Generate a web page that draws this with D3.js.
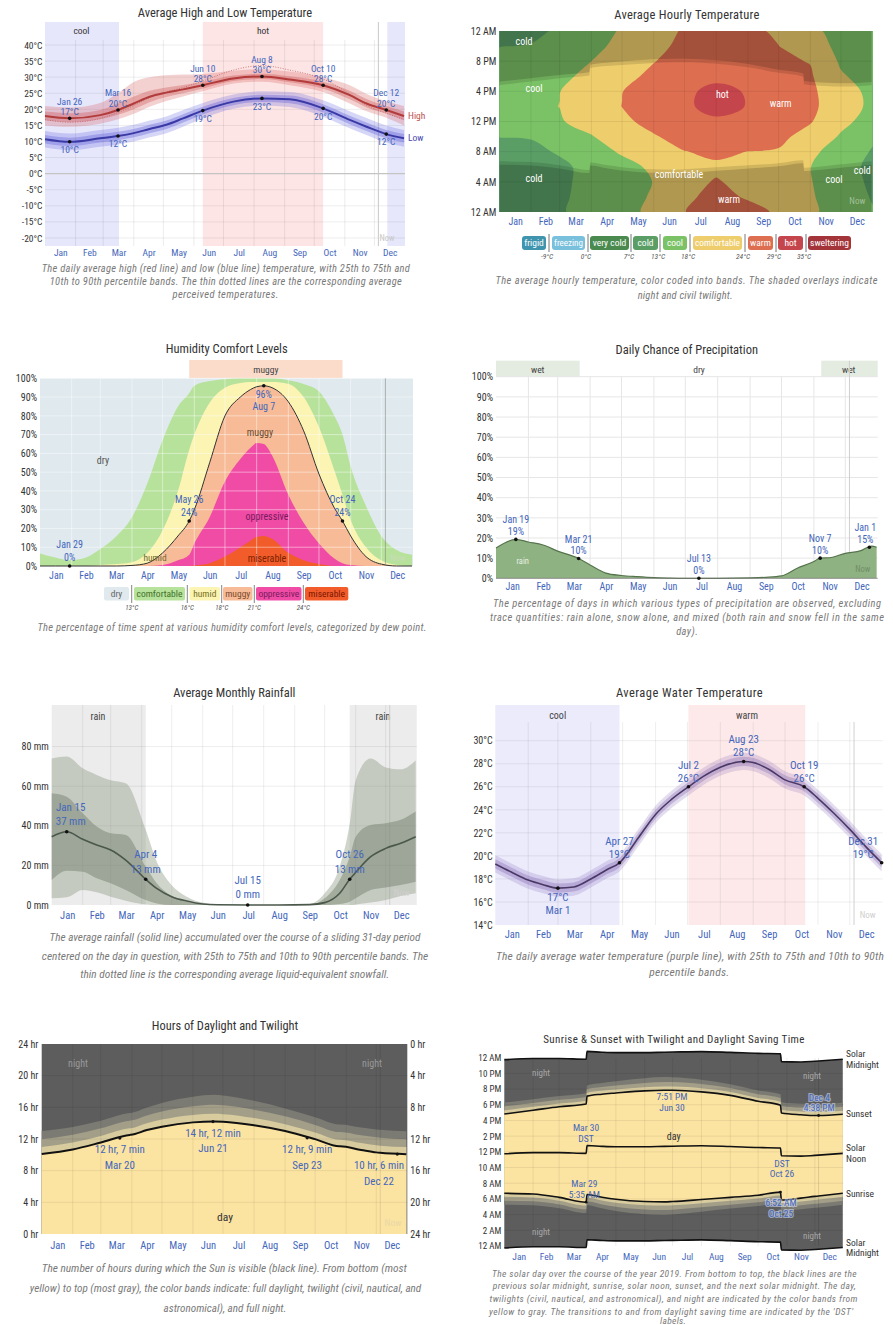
<!DOCTYPE html>
<html><head><meta charset="utf-8">
<script src="https://cdn.jsdelivr.net/npm/d3@7"></script>
<style>
body{margin:0;background:#fff;}
svg text{font-family:"Liberation Sans Narrow","Roboto Condensed","Liberation Sans",Arial,sans-serif;}
svg text.cap{font-style:italic;fill:#7a7a7a;}
</style></head><body>
<svg id="chart" width="893" height="1325"></svg>
<script>
// ================= DATA =================
const monthNames = ["Jan","Feb","Mar","Apr","May","Jun","Jul","Aug","Sep","Oct","Nov","Dec"];
const monthMid = [15.5,45,74.5,105,135.5,166,196.5,227.5,258,288.5,319,349.5];
const monthStart = [0,31,59,90,120,151,181,212,243,273,304,334,365];
const nowDay = 338;

// 1. Average high and low temperature
const tempDays   = [0,25,56,74,90,106,123,140,160,191,220,248,282,309,326,346,364];
const tempHigh   = [17.9,17.2,18.2,19.8,21.8,23.9,25.2,26.2,27.5,29.6,30.2,29.3,27.5,24.4,21.8,19.8,17.9];
const tempHighP90= [21.0,20.6,22.0,25.0,28.5,30.0,30.6,30.8,31.0,32.0,32.5,31.8,30.0,27.5,24.8,22.5,21.0];
const tempHighP75= [19.3,18.8,19.8,21.8,24.0,25.8,26.8,27.6,28.6,30.5,31.1,30.3,28.6,25.8,23.2,21.0,19.3];
const tempHighP25= [16.6,16.0,16.9,18.3,20.0,22.2,23.8,25.0,26.5,28.8,29.4,28.4,26.4,23.1,20.6,18.7,16.6];
const tempHighP10= [15.0,14.6,15.5,16.9,18.6,20.8,22.6,24.0,25.6,28.0,28.6,27.5,25.4,21.8,19.4,17.4,15.0];
const tempHighFeel=[16.8,16.0,17.2,19.0,21.2,23.6,25.4,26.8,28.8,32.2,33.6,32.2,29.4,24.8,21.2,18.8,16.8];
const tempLow    = [10.7,9.9,11.0,11.7,12.6,13.9,15.2,17.2,19.6,22.4,23.4,23.1,20.3,16.7,14.6,12.3,11.0];
const tempLowP90 = [13.3,12.5,13.6,14.3,15.2,16.5,17.8,19.8,22.0,24.6,25.6,25.4,22.8,19.4,17.3,15.0,13.6];
const tempLowP75 = [12.0,11.2,12.3,13.0,13.9,15.2,16.5,18.5,20.8,23.5,24.5,24.3,21.6,18.0,15.9,13.6,12.3];
const tempLowP25 = [9.4,8.6,9.7,10.4,11.3,12.6,13.9,15.9,18.4,21.3,22.3,21.9,19.0,15.4,13.3,11.0,9.7];
const tempLowP10 = [8.1,7.3,8.4,9.1,10.0,11.3,12.6,14.6,17.2,20.2,21.2,20.7,17.7,14.1,12.0,9.7,8.4];
const tempTicks  = [40,35,30,25,20,15,10,5,0,-5,-10,-15,-20];
const coolSeason = [[0,75],[347,365]];
const hotSeason  = [[160,282]];
const highNotes  = [["Jan 26",25,17.2,"17°C"],["Mar 16",74,19.8,"20°C"],["Jun 10",160,27.5,"28°C"],["Aug 8",220,30.2,"30°C"],["Oct 10",282,27.5,"28°C"],["Dec 12",346,19.8,"20°C"]];
const lowNotes   = [[25,9.9,"10°C"],[74,11.7,"12°C"],[160,19.6,"19°C"],[220,23.4,"23°C"],[282,20.3,"20°C"],[346,12.3,"12°C"]];

// 2. Average hourly temperature: one row per month boundary (Jan 1 ... Dec 31), values at hours 0,2,...,24
const hourlyTemp = [
  [12.0,11.6,11.2,10.8,11.5,13.1,15.8,17.3,16.8,15.2,13.9,12.9,12.4],
  [11.8,11.4,11.0,10.8,11.8,13.3,15.6,17.0,16.7,15.4,14.1,13.1,12.5],
  [12.3,12.0,11.8,11.9,13.5,15.5,17.6,18.05,17.9,16.6,15.3,14.2,13.3],
  [15.5,15.1,14.8,14.6,15.8,17.7,20.0,21.4,21.2,19.6,18.0,16.5,15.3],
  [17.0,16.6,16.2,16.4,18.6,21.0,23.0,24.05,23.9,22.3,20.5,19.5,18.6],
  [18.7,18.4,18.1,18.9,21.5,23.6,25.5,26.6,26.5,25.3,23.8,22.5,21.5],
  [23.95,23.6,23.1,22.8,23.9,25.8,27.8,28.6,28.5,27.5,26.2,25.3,24.6],
  [25.0,24.6,24.2,23.5,24.6,26.8,28.6,29.8,29.7,28.4,27.0,26.0,25.4],
  [24.7,23.8,23.2,22.9,23.95,26.0,27.8,28.9,28.8,27.6,26.3,25.5,25.0],
  [23.7,23.2,22.8,22.6,23.6,25.3,26.8,27.6,27.4,26.1,24.8,24.05,23.3],
  [19.2,18.7,18.3,18.1,19.3,22.0,24.4,25.4,25.2,24.6,23.8,21.5,19.8],
  [15.0,14.6,14.3,14.2,15.3,17.4,19.4,20.3,20.0,18.6,17.2,16.1,15.3],
  [13.2,12.8,12.5,12.3,12.7,13.6,15.8,17.0,16.8,15.6,14.6,13.9,13.4]
];
const tempBandNames  = ["frigid","freezing","very cold","cold","cool","comfortable","warm","hot","sweltering"];
const tempBandLimits = ["-9°C","0°C","7°C","13°C","18°C","24°C","29°C","35°C"];
const tempBandThresholds = [-100,-9,0,7,13,18,24,29,35];
const hourTicks = [24,20,16,12,8,4,0];

// Solar data (local clock time, hours), shared by hourly temperature, daylight and sunrise charts
const solarDays = [0,31,59,88,89,105,120,151,172,181,212,243,273,297,298,319,334,338,364];
const sunrise   = [6.72,6.62,6.2,5.58,6.57,6.22,5.95,5.67,5.63,5.67,5.92,6.2,6.47,6.87,5.87,6.1,6.32,6.37,6.72];
const sunset    = [16.82,17.3,17.75,18.1,19.1,19.35,19.5,19.77,19.85,19.85,19.65,19.2,18.45,17.95,16.95,16.72,16.63,16.63,16.8];
const solarNoon = [11.75,11.9,11.9,11.8,12.8,12.7,12.65,12.65,12.7,12.72,12.78,12.68,12.55,12.5,11.5,11.45,11.55,11.58,11.8];
const twCivil   = [0.45,0.44,0.42,0.42,0.42,0.43,0.45,0.47,0.48,0.48,0.46,0.43,0.42,0.42,0.42,0.43,0.45,0.45,0.45];
const twNautical= [0.95,0.93,0.9,0.9,0.9,0.92,0.96,1.02,1.05,1.04,0.99,0.93,0.9,0.9,0.9,0.92,0.95,0.95,0.95];
const twAstro   = [1.45,1.42,1.38,1.38,1.38,1.42,1.5,1.62,1.68,1.66,1.55,1.43,1.38,1.38,1.38,1.41,1.45,1.45,1.45];

// 3. Humidity comfort levels (cumulative % from bottom)
const humDays    = [0,15,29,45,59,75,90,105,120,135,146,151,166,181,196,206,212,219,227,243,258,273,288,296,304,319,334,349,364];
const humComfTop = [6.7,4.5,3,4.5,9,16,26,44,67,85,92,96,98.5,99.5,100,100,100,100,100,99,97,93,80,70,53,32,16,8.5,6];
const humHumidTop= [0,0,0,0,0.5,1,2,7,19,40,62,70,87,95,97.5,98,98,98,98,97,90,74,51,38,24.5,10,3,0.5,0];
const humMuggyTop= [0,0,0,0,0,0,0.3,1.5,7,16,24,30,55,80,90,94,95.5,96,95,87.5,72,49,31,24,16,5,1,0,0];
const humOppTop  = [0,0,0,0,0,0,0,0,0.5,3,6,12,26,45,57,63,65.5,65,59,38,23,12,4,1.5,0.5,0,0,0,0];
const humMisTop  = [0,0,0,0,0,0,0,0,0,0,0,0.3,1.5,5,10,13.5,15.5,16,14.5,7,3,1,0,0,0,0,0,0,0];
const humNames   = ["dry","comfortable","humid","muggy","oppressive","miserable"];
const humLimits  = ["13°C","16°C","18°C","21°C","24°C"];
const pctTicks   = [0,10,20,30,40,50,60,70,80,90,100];

// 4. Daily chance of precipitation
const precipDays = [0,19,31,45,59,79,90,105,120,135,151,166,181,194,212,243,258,273,288,304,310,319,334,349,359,364];
const precipRain = [15,19.3,18,16.5,13.5,9.8,6.6,2.6,1.4,0.8,0.3,0.1,0,0,0,0.2,0.5,1.2,5,8.3,10,10.2,12.4,13.7,16,15.4];
const wetSeason  = [[0,80],[311,365]];

// 5. Average monthly rainfall (mm)
const rainDays = [0,15,31,45,59,74,94,105,120,135,151,166,196,227,258,273,288,298,304,319,334,349,364];
const rainP90  = [74,75,69,65.7,63,61.5,38,22,10,4.2,1.2,0.2,0,0,0.5,5.9,19.4,41,63,74,69.5,68.5,73];
const rainP75  = [56.4,54.7,46.3,39.6,36.2,35.4,19.4,11,4.5,1.7,0.3,0,0,0,0,3.4,12.6,24.4,34.5,40.4,41.3,43,47.2];
const rainMean = [34.5,37,33.2,30.3,27.8,22.7,13,8.4,4.2,2,0.5,0.1,0,0,0.2,1.2,5.9,13,16.5,24.4,28.6,31.2,34.5];
const rainP25  = [12.6,17.3,16.8,13.5,11,7.6,2.5,0.8,0,0,0,0,0,0,0,0,0.5,1.7,3.4,7.6,8.9,10.1,11.8];
const rainP10  = [3.4,3.9,7.6,6.4,4.2,2.2,0.3,0,0,0,0,0,0,0,0,0,0,0,0.3,1.2,2.5,4.5,5.9];
const rainSeason = [[0,94],[298,365]];
const rainTicks = [0,20,40,60,80];

// 6. Average water temperature
const waterDays = [0,15,31,45,59,74,90,105,117,135,151,166,182,196,212,234,243,258,273,291,304,319,334,349,364];
const waterTemp = [19.3,18.6,17.9,17.5,17.2,17.3,18.0,18.8,19.4,21.6,23.6,24.9,26.0,26.9,27.7,28.2,28.1,27.5,26.6,26.0,25.0,23.7,22.3,20.8,19.4];
const waterP90  = [20.05,19.35,18.65,18.25,17.95,18.05,18.75,19.55,20.15,22.35,24.35,25.65,26.75,27.65,28.45,28.95,28.85,28.25,27.35,26.75,25.75,24.45,23.05,21.55,20.15];
const waterP75  = [19.7,19.0,18.3,17.9,17.6,17.7,18.4,19.2,19.8,22.0,24.0,25.3,26.4,27.3,28.1,28.6,28.5,27.9,27.0,26.4,25.4,24.1,22.7,21.2,19.8];
const waterP25  = [18.9,18.2,17.5,17.1,16.8,16.9,17.6,18.4,19.0,21.2,23.2,24.5,25.6,26.5,27.3,27.8,27.7,27.1,26.2,25.6,24.6,23.3,21.9,20.4,19.0];
const waterP10  = [18.55,17.85,17.15,16.75,16.45,16.55,17.25,18.05,18.65,20.85,22.85,24.15,25.25,26.15,26.95,27.45,27.35,26.75,25.85,25.25,24.25,22.95,21.55,20.05,18.65];
const waterCool = [[0,117]];
const waterWarm = [[182,292]];
const waterTicks = [14,16,18,20,22,24,26,28,30];

// 7. daylight ticks / notes
const dayHourTicks = [0,4,8,12,16,20,24];
const daylightNotes = [["12 hr, 7 min","Mar 20",78,12.12],["14 hr, 12 min","Jun 21",171,14.2],["12 hr, 9 min","Sep 23",265,12.15],["10 hr, 6 min","Dec 22",355,10.1]];
// 8. sunrise chart ticks
const clockTicks = [24,22,20,18,16,14,12,10,8,6,4,2,0];

// ================= HELPERS =================
function hasFont(f){
  const c=document.createElement("canvas").getContext("2d"); const s="mmmmmmmmmmlliWWii The quick brown fox";
  c.font="20px monospace"; const a=c.measureText(s).width;
  c.font=`20px '${f}', monospace`; return Math.abs(c.measureText(s).width-a)>0.5;
}
const narrowFont=["Liberation Sans Narrow","Roboto Condensed","DejaVu Sans Condensed","Open Sans Condensed"].find(hasFont);
const capFont = narrowFont ? `'${narrowFont}', 'Open Sans', sans-serif` : "'Open Sans', 'Liberation Sans', sans-serif";

const svg = d3.select("#chart");
svg.append("rect").attr("width",893).attr("height",1325).attr("fill","#fff");
const defs = svg.append("defs");
const blue = "#4466bb";

// fit a text to a target width: shrink font if the natural width is larger, widen spacing a little if smaller
function fit(sel,target,size){
  sel.style("font-size",size+"px");
  let n=sel.node().getComputedTextLength();
  if(n>target){ sel.style("font-size",(size*target/n).toFixed(2)+"px"); n=sel.node().getComputedTextLength(); }
  if(n<target*0.96) sel.attr("textLength",target).attr("lengthAdjust","spacing");
  return sel;
}
function title(t,cx,cy,w,size){
  const e=svg.append("text").attr("x",cx).attr("y",cy).attr("dy","0.35em").attr("text-anchor","middle").attr("fill","#333").text(t);
  fit(e,w,size);
}
function caption(lines,size){
  lines.forEach(([t,cx,cy,w])=>{
    const e=svg.append("text").attr("class","cap").attr("x",cx).attr("y",cy).attr("dy","0.35em")
      .attr("text-anchor","middle").style("font-family",capFont).text(t);
    fit(e,w,size);
  });
}
function txt(g,t,x,y,size,color,anchor="middle",extra){
  const e=g.append("text").attr("x",x).attr("y",y).attr("dy","0.35em").attr("text-anchor",anchor)
    .style("font-size",size+"px").attr("fill",color).text(t);
  if(extra) extra(e);
  return e;
}
function monthAxis(g,x,cy,size=10){
  const a=g.append("g").attr("transform",`translate(0,${cy-size*0.36})`)
    .call(d3.axisBottom(x).tickValues(monthMid).tickFormat((d,i)=>monthNames[i]).tickSize(0).tickPadding(0));
  a.select(".domain").remove();
  a.selectAll("text").attr("fill",blue).style("font-size",size+"px");
}
function leftAxis(g,y,xpos,ticks,fmt,size=10,pad=3,color="#333"){
  const a=g.append("g").attr("transform",`translate(${xpos},0)`)
    .call(d3.axisLeft(y).tickValues(ticks).tickFormat(fmt).tickSize(0).tickPadding(pad));
  a.select(".domain").remove();
  a.selectAll("text").attr("fill",color).style("font-size",size+"px");
}
function rightAxis(g,y,xpos,ticks,fmt,size=10,pad=3){
  const a=g.append("g").attr("transform",`translate(${xpos},0)`)
    .call(d3.axisRight(y).tickValues(ticks).tickFormat(fmt).tickSize(0).tickPadding(pad));
  a.select(".domain").remove();
  a.selectAll("text").attr("fill","#333").style("font-size",size+"px");
}
function vGrid(g,x,y0,y1,stroke){
  g.selectAll(null).data(monthStart.slice(1,12)).join("line")
    .attr("x1",d=>x(d)).attr("x2",d=>x(d)).attr("y1",y0).attr("y2",y1).attr("stroke",stroke).attr("stroke-width",1);
}
function hGrid(g,y,vals,x0,x1,stroke){
  g.selectAll(null).data(vals).join("line")
    .attr("x1",x0).attr("x2",x1).attr("y1",d=>y(d)).attr("y2",d=>y(d)).attr("stroke",stroke).attr("stroke-width",1);
}
const val=(a,i)=>typeof a==="function"?a(i):(typeof a==="number"?a:a[i]);
function area(x,y,days,lo,hi){
  return d3.area().x((d,i)=>x(days[i])).y0((d,i)=>y(val(lo,i))).y1((d,i)=>y(val(hi,i))).curve(d3.curveMonotoneX)(days);
}
function line(x,y,days,v){
  return d3.line().x((d,i)=>x(days[i])).y((d,i)=>y(val(v,i))).curve(d3.curveMonotoneX)(days);
}
function dot(g,x,y,r=1.8){ g.append("circle").attr("cx",x).attr("cy",y).attr("r",r).attr("fill","#111"); }
function nowLine(g,x,y0,y1,c="#c8c8c8"){ g.append("line").attr("x1",x).attr("x2",x).attr("y1",y0).attr("y2",y1).attr("stroke",c).attr("stroke-width",1); }
function clip(id,x,y,w,h){ defs.append("clipPath").attr("id",id).append("rect").attr("x",x).attr("y",y).attr("width",w).attr("height",h); return `url(#${id})`; }
function boxLabel(g,t,b,cy,size,color){
  const e=txt(g,t,(b[0]+b[1])/2,cy,size,color);
  const n=e.node().getComputedTextLength(), w=b[1]-b[0]-4;
  if(n>w) e.style("font-size",(size*w/n).toFixed(2)+"px");
  return e;
}

// ================= 1. HIGH / LOW =================
{
  const g=svg.append("g");
  const x=d3.scaleLinear([0,365],[45,405]);
  const y=d3.scaleLinear([-20,40],[238,45]);
  const top=22, bot=246;
  coolSeason.forEach(s=>g.append("rect").attr("x",x(s[0])).attr("width",x(s[1])-x(s[0])).attr("y",top).attr("height",bot-top).attr("fill","#e7e7fb"));
  hotSeason.forEach(s=>g.append("rect").attr("x",x(s[0])).attr("width",x(s[1])-x(s[0])).attr("y",top).attr("height",bot-top).attr("fill","#fde5e5"));
  txt(g,"cool",x(37),31,9.5,"#333");
  txt(g,"hot",x(221),31,9.5,"#333");
  hGrid(g,y,tempTicks.filter(d=>d!==0),45,405,"rgba(0,0,0,0.07)");
  vGrid(g,x,40,bot,"rgba(0,0,0,0.08)");
  g.append("line").attr("x1",45).attr("x2",405).attr("y1",y(0)).attr("y2",y(0)).attr("stroke","#c4c4c4").attr("stroke-width",1.2);
  nowLine(g,x(nowDay),top,bot);
  g.append("path").attr("d",area(x,y,tempDays,tempHighP10,tempHighP90)).attr("fill","rgba(215,90,90,0.28)");
  g.append("path").attr("d",area(x,y,tempDays,tempHighP25,tempHighP75)).attr("fill","rgba(200,70,70,0.32)");
  g.append("path").attr("d",area(x,y,tempDays,tempLowP10,tempLowP90)).attr("fill","rgba(95,95,225,0.26)");
  g.append("path").attr("d",area(x,y,tempDays,tempLowP25,tempLowP75)).attr("fill","rgba(80,80,215,0.32)");
  g.append("path").attr("d",line(x,y,tempDays,tempHighFeel)).attr("fill","none").attr("stroke","#c06060").attr("stroke-width",0.8).attr("stroke-dasharray","1,1.5");
  g.append("path").attr("d",line(x,y,tempDays,tempHigh)).attr("fill","none").attr("stroke","#b23b3b").attr("stroke-width",2);
  g.append("path").attr("d",line(x,y,tempDays,tempLow)).attr("fill","none").attr("stroke","#3a3aa6").attr("stroke-width",2);
  highNotes.forEach(([lab,d,v,t])=>{ dot(g,x(d),y(v)); txt(g,lab,x(d),y(v)-17,9.5,blue); txt(g,t,x(d),y(v)-6.5,9.5,blue); });
  lowNotes.forEach(([d,v,t])=>{ dot(g,x(d),y(v)); txt(g,t,x(d),y(v)+8,9.5,blue); });
  txt(g,"High",408,116,9.5,"#c05050","start");
  txt(g,"Low",408,138,9.5,"#4848b0","start");
  txt(g,"Now",387,238,8.5,"#c8c8c8");
  leftAxis(g,y,45,tempTicks,d=>d+"°C",9.5,2.5);
  monthAxis(g,x,253,9.5);
  title("Average High and Low Temperature",225,13,176.7,12.5);
  caption([["The daily average high (red line) and low (blue line) temperature, with 25th to 75th and",225.8,268.3,368],
           ["10th to 90th percentile bands. The thin dotted lines are the corresponding average",225.8,281.7,352],
           ["perceived temperatures.",225.5,294.3,106]],10.5);
}

// ================= 2. HOURLY TEMPERATURE =================
{
  const g=svg.append("g");
  const x=d3.scaleLinear([0,365],[499.3,872.7]);
  const y=d3.scaleLinear([0,24],[212,31]);
  const cp=clip("c2",499.3,31,373.4,181);
  const gg=g.append("g").attr("clip-path",cp);
  const bandColors=["#3f95ae","#78c0dc","#4a8a4e","#5a9e66","#7bc266","#eecd6c","#dd6e50","#c4454c","#a3343a"];
  const nC=hourlyTemp.length, nR=hourlyTemp[0].length;
  const values=[];
  for(let j=0;j<nR;j++) for(let i=0;i<nC;i++) values.push(hourlyTemp[i][j]);
  const conts=d3.contours().size([nC,nR]).thresholds(tempBandThresholds)(values);
  const colDay=d3.scaleLinear().domain(d3.range(nC)).range(monthStart);
  const ring=d3.line().x(p=>x(colDay(p[0]-0.5))).y(p=>y((p[1]-0.5)*2)).curve(d3.curveCatmullRomClosed.alpha(0.5));
  conts.forEach(c=>{
    let d="";
    c.coordinates.forEach(poly=>poly.forEach(r=>{ if(r.length>3) d+=ring(r.slice(0,-1)); }));
    if(d) gg.append("path").attr("d",d).attr("fill",bandColors[tempBandThresholds.indexOf(c.value)]).attr("fill-rule","evenodd");
  });
  const dawn=i=>sunrise[i]-twCivil[i], dusk=i=>sunset[i]+twCivil[i];
  gg.append("path").attr("d",area(x,y,solarDays,0,dawn)).attr("fill","rgba(0,0,0,0.26)");
  gg.append("path").attr("d",area(x,y,solarDays,dawn,sunrise)).attr("fill","rgba(0,0,0,0.12)");
  gg.append("path").attr("d",area(x,y,solarDays,sunset,dusk)).attr("fill","rgba(0,0,0,0.12)");
  gg.append("path").attr("d",area(x,y,solarDays,dusk,24)).attr("fill","rgba(0,0,0,0.26)");
  vGrid(gg,x,31,212,"rgba(0,0,0,0.07)");
  hGrid(gg,y,[4,8,12,16,20],499.3,872.7,"rgba(0,0,0,0.07)");
  [["cold",524,41.3],["cool",534,88],["hot",722.3,94.7],["warm",780.7,103],["cold",534,178],["comfortable",679,174.7],["warm",729,199],["cool",834,179],["cold",862.3,170.7]]
    .forEach(([t,a,b])=>txt(g,t,a,b,10,"#fff"));
  txt(g,"Now",857.3,201.3,9,"rgba(255,255,255,0.45)");
  leftAxis(g,y,499.3,hourTicks,h=>h===24||h===0?"12 AM":h===12?"12 PM":h>12?(h-12)+" PM":h+" AM",10,3);
  monthAxis(g,x,221.5,10);
  const boxes=[[522,546],[552,585],[590,629],[633,658],[663,687],[693,742],[748,773],[778,803],[808,851]];
  boxes.forEach((b,i)=>{
    g.append("rect").attr("x",b[0]).attr("y",236).attr("width",b[1]-b[0]).attr("height",14).attr("rx",3).attr("fill",bandColors[i]);
    boxLabel(g,tempBandNames[i],b,243,9.5,"#fff");
  });
  const seps=[549,588,631,660,690,745,776,806];
  seps.forEach((s,i)=>{
    g.append("line").attr("x1",s).attr("x2",s).attr("y1",234).attr("y2",252).attr("stroke","#555").attr("stroke-width",0.8);
    txt(g,tempBandLimits[i],s-2,256,7.5,"#555",undefined,e=>e.style("font-style","italic"));
  });
  title("Average Hourly Temperature",686.8,15,145,12.5);
  caption([["The average hourly temperature, color coded into bands. The shaded overlays indicate",686.5,280,382],
           ["night and civil twilight.",685.2,295,95]],10.5);
}

// ================= 3. HUMIDITY =================
{
  const g=svg.append("g");
  const x=d3.scaleLinear([0,365],[40,413]);
  const y=d3.scaleLinear([0,100],[566,378.3]);
  g.append("rect").attr("x",x(146)).attr("width",x(296)-x(146)).attr("y",360).attr("height",18.3).attr("fill","#fbdccb");
  txt(g,"muggy",x(221),369.5,9.5,"#444");
  g.append("rect").attr("x",40).attr("y",378.3).attr("width",373).attr("height",187.7).attr("fill","#dfe9ee");
  const cols=["#b7e29b","#fbf4b3","#f7bc97","#f04ca5","#f25c2b"];
  [humComfTop,humHumidTop,humMuggyTop,humOppTop,humMisTop].forEach((arr,i)=>{
    g.append("path").attr("d",area(x,y,humDays,0,arr)).attr("fill",cols[i]);
  });
  vGrid(g,x,378.3,566,"rgba(255,255,255,0.45)");
  hGrid(g,y,pctTicks.slice(1),40,413,"rgba(255,255,255,0.45)");
  g.append("path").attr("d",line(x,y,humDays,humMuggyTop)).attr("fill","none").attr("stroke","#333").attr("stroke-width",1);
  nowLine(g,x(nowDay),378.3,566,"rgba(120,120,120,0.5)");
  txt(g,"dry",103,460,10,"#555");
  txt(g,"humid",155,558,9.5,"#6e6a30");
  txt(g,"muggy",260,432,10,"#6a4a30");
  txt(g,"oppressive",267,516,10,"#7a1a5e");
  txt(g,"miserable",267,558,10,"#7a2200");
  txt(g,"Now",398,558,9,"#c8dcb8");
  [["Jan 29","0%",29,0],["May 26","24%",146,24],["Oct 24","24%",296,24]].forEach(([a,b,d,v])=>{
    dot(g,x(d),y(v)); txt(g,a,x(d),y(v)-21.5,10,blue); txt(g,b,x(d),y(v)-8.5,10,blue);
  });
  dot(g,x(219),y(96)); txt(g,"96%",x(219),y(96)+9,10,blue); txt(g,"Aug 7",x(219),y(96)+21,10,blue);
  leftAxis(g,y,40,pctTicks,d=>d+"%",10,3);
  monthAxis(g,x,575,10);
  const boxes=[[104,129],[134,185],[189.5,220],[223,252.5],[256,301.5],[305,348.3]];
  const fills=["#dfe9ee","#b7e29b","#fbf4b3","#f7bc97","#f04ca5","#f25c2b"];
  const tcol=["#666","#3f6e2a","#77701e","#7a4a2a","#7a1a5e","#7a1500"];
  boxes.forEach((b,i)=>{
    g.append("rect").attr("x",b[0]).attr("y",587).attr("width",b[1]-b[0]).attr("height",13.5).attr("rx",2).attr("fill",fills[i]);
    boxLabel(g,humNames[i],b,593.8,9.5,tcol[i]);
  });
  [131.7,187.3,221.7,254.3,303.3].forEach((s,i)=>{
    g.append("line").attr("x1",s).attr("x2",s).attr("y1",585).attr("y2",603).attr("stroke","#666").attr("stroke-width",0.8);
    txt(g,humLimits[i],s,607.5,7,"#555",undefined,e=>e.style("font-style","italic"));
  });
  title("Humidity Comfort Levels",226.7,349,123.3,12.5);
  caption([["The percentage of time spent at various humidity comfort levels, categorized by dew point.",232,627.7,389]],10.5);
}

// ================= 4. PRECIPITATION =================
{
  const g=svg.append("g");
  const x=d3.scaleLinear([0,365],[496,877.7]);
  const y=d3.scaleLinear([0,100],[578.3,376.7]);
  wetSeason.forEach(s=>g.append("rect").attr("x",x(s[0])).attr("width",x(s[1])-x(s[0])).attr("y",360.7).attr("height",16).attr("fill","#e4ebe0"));
  txt(g,"wet",537.7,369.3,9.5,"#444"); txt(g,"dry",699,369.3,9.5,"#444"); txt(g,"wet",848.7,369.3,9.5,"#444");
  hGrid(g,y,pctTicks.slice(1),496,877.7,"#e6e6e6");
  vGrid(g,x,376.7,578.3,"#e6e6e6");
  nowLine(g,x(nowDay),360.7,578.3,"#cfcfcf");
  g.append("path").attr("d",area(x,y,precipDays,0,precipRain)).attr("fill","#8fb283");
  g.append("path").attr("d",line(x,y,precipDays,precipRain)).attr("fill","none").attr("stroke","#55744c").attr("stroke-width",1.2);
  g.append("line").attr("x1",496).attr("x2",877.7).attr("y1",578.3).attr("y2",578.3).attr("stroke","#777").attr("stroke-width",0.8);
  txt(g,"rain",522.7,561,8.5,"#e8f0e0");
  txt(g,"Now",862.7,569,8.5,"#6f8f66");
  [["Jan 19","19%",19,19.3],["Mar 21","10%",79,9.8],["Jul 13","0%",194,0],["Nov 7","10%",310,10],["Jan 1","15%",357,15.4]].forEach(([a,b,d,v])=>{
    const o=d===357?-4:0;
    dot(g,x(d),y(v)); txt(g,a,x(d)+o,y(v)-19.5,10,blue); txt(g,b,x(d)+o,y(v)-8,10,blue);
  });
  leftAxis(g,y,496,pctTicks,d=>d+"%",10,3);
  monthAxis(g,x,586,10);
  title("Daily Chance of Precipitation",686.8,350,148.3,12.5);
  caption([["The percentage of days in which various types of precipitation are observed, excluding",687,603,388],
           ["trace quantities: rain alone, snow alone, and mixed (both rain and snow fell in the same",687,617.3,394],
           ["day).",687,631.7,21.7]],10.5);
}

// ================= 5. RAINFALL =================
{
  const g=svg.append("g");
  const x=d3.scaleLinear([0,365],[51.7,416.7]);
  const y=d3.scaleLinear([0,101],[905,705]);
  rainSeason.forEach(s=>g.append("rect").attr("x",x(s[0])).attr("width",x(s[1])-x(s[0])).attr("y",705).attr("height",200).attr("fill","#ececec"));
  txt(g,"rain",98,716.7,10,"#444"); txt(g,"rain",383,716.7,10,"#444");
  hGrid(g,y,rainTicks.slice(1),51.7,416.7,"rgba(0,0,0,0.07)");
  vGrid(g,x,705,905,"rgba(0,0,0,0.07)");
  nowLine(g,x(nowDay),705,905,"#d0d0d0");
  g.append("path").attr("d",area(x,y,rainDays,rainP10,rainP90)).attr("fill","rgba(140,155,132,0.42)");
  g.append("path").attr("d",area(x,y,rainDays,rainP25,rainP75)).attr("fill","rgba(110,122,104,0.45)");
  g.append("path").attr("d",line(x,y,rainDays,rainMean)).attr("fill","none").attr("stroke","#4a574a").attr("stroke-width",1.6);
  txt(g,"Now",401.7,893,9,"#d0d0d0");
  [["Jan 15","37 mm",15,37],["Apr 4","13 mm",94,13],["Jul 15","0 mm",196,0],["Oct 26","13 mm",298,13]].forEach(([a,b,d,v])=>{
    const o=d===15?4:0;
    dot(g,x(d),y(v)); txt(g,a,x(d)+o,y(v)-25,11,blue); txt(g,b,x(d)+o,y(v)-10.5,11,blue);
  });
  leftAxis(g,y,51.7,rainTicks,d=>d+" mm",10,3);
  monthAxis(g,x,915,10.5);
  title("Average Monthly Rainfall",234.3,692.7,123.3,12.5);
  caption([["The average rainfall (solid line) accumulated over the course of a sliding 31-day period",235,937.3,371],
           ["centered on the day in question, with 25th to 75th and 10th to 90th percentile bands. The",235,955.7,386.7],
           ["thin dotted line is the corresponding average liquid-equivalent snowfall.",234.7,974.3,309]],11.5);
}

// ================= 6. WATER TEMPERATURE =================
{
  const g=svg.append("g");
  const x=d3.scaleLinear([0,365],[495.3,882.7]);
  const y=d3.scaleLinear([14,33.1],[925,705]);
  waterCool.forEach(s=>g.append("rect").attr("x",x(s[0])).attr("width",x(s[1])-x(s[0])).attr("y",705).attr("height",220).attr("fill","#ebebfc"));
  waterWarm.forEach(s=>g.append("rect").attr("x",x(s[0])).attr("width",x(s[1])-x(s[0])).attr("y",705).attr("height",220).attr("fill","#fde9e9"));
  txt(g,"cool",557.7,715,10,"#444"); txt(g,"warm",747,715,10,"#444");
  hGrid(g,y,waterTicks.slice(1),495.3,882.7,"rgba(0,0,0,0.07)");
  vGrid(g,x,722,925,"rgba(0,0,0,0.07)");
  nowLine(g,x(nowDay),722,925,"#d0d0d0");
  g.append("path").attr("d",area(x,y,waterDays,waterP10,waterP90)).attr("fill","rgba(130,100,180,0.22)");
  g.append("path").attr("d",area(x,y,waterDays,waterP25,waterP75)).attr("fill","rgba(110,80,165,0.28)");
  g.append("path").attr("d",line(x,y,waterDays,waterTemp)).attr("fill","none").attr("stroke","#4a3966").attr("stroke-width",1.6);
  txt(g,"Now",867.7,915,9,"#cfcfcf");
  dot(g,x(59),y(17.2)); txt(g,"17°C",x(59),y(17.2)+9.5,11,blue); txt(g,"Mar 1",x(59),y(17.2)+22.5,11,blue);
  [["Apr 27","19°C",117,19.4,0],["Jul 2","26°C",182,26.0,0],["Aug 23","28°C",234,28.2,0],["Oct 19","26°C",291,26.0,0],["Dec 31","19°C",364,19.4,-18.4]].forEach(([a,b,d,v,o])=>{
    dot(g,x(d),y(v)); txt(g,a,x(d)+o,y(v)-22,11,blue); txt(g,b,x(d)+o,y(v)-9,11,blue);
  });
  leftAxis(g,y,495.3,waterTicks,d=>d+"°C",10,2.6);
  monthAxis(g,x,934,10.5);
  title("Average Water Temperature",689.3,692.7,146.7,12.5);
  caption([["The daily average water temperature (purple line), with 25th to 75th and 10th to 90th",690,956,388],
           ["percentile bands.",689.3,971.7,80]],11.5);
}

const cNight="#5d5d5d", cAstro="#7b7a73", cNaut="#a39e88", cCivil="#d8cc9f", cDay="#fbe3a1";

// ================= 7. DAYLIGHT =================
{
  const g=svg.append("g");
  const x=d3.scaleLinear([0,365],[41.7,407.3]);
  const y=d3.scaleLinear([0,24],[1234,1044]);
  const yr=d3.scaleLinear([0,24],[1044,1234]);
  const daylight=i=>sunset[i]-sunrise[i];
  g.append("rect").attr("x",41.7).attr("y",1044).attr("width",365.6).attr("height",190).attr("fill",cNight);
  g.append("path").attr("d",area(x,y,solarDays,0,i=>daylight(i)+2*twAstro[i])).attr("fill",cAstro);
  g.append("path").attr("d",area(x,y,solarDays,0,i=>daylight(i)+2*twNautical[i])).attr("fill",cNaut);
  g.append("path").attr("d",area(x,y,solarDays,0,i=>daylight(i)+2*twCivil[i])).attr("fill",cCivil);
  g.append("path").attr("d",area(x,y,solarDays,0,daylight)).attr("fill",cDay);
  vGrid(g,x,1044,1234,"rgba(0,0,0,0.07)");
  hGrid(g,y,[4,8,12,16,20],41.7,407.3,"rgba(0,0,0,0.07)");
  nowLine(g,x(nowDay),1044,1234,"rgba(0,0,0,0.1)");
  g.append("path").attr("d",line(x,y,solarDays,daylight)).attr("fill","none").attr("stroke","#111").attr("stroke-width",2);
  txt(g,"night",78,1063,10,"#9a9a9a"); txt(g,"night",372,1063,10,"#9a9a9a");
  txt(g,"day",225,1217,11.5,"#333");
  txt(g,"Now",393,1223,9.5,"#e9d8a6");
  daylightNotes.forEach(([a,b,d,v])=>{
    const ox=d===355?-18.3:0;
    dot(g,x(d),y(v),1.6); txt(g,a,x(d)+ox,y(v)+11.5,11,blue); txt(g,b,x(d)+ox,y(v)+27,11,blue);
  });
  leftAxis(g,y,41.7,dayHourTicks,d=>d+" hr",10,3.4);
  rightAxis(g,yr,407.3,dayHourTicks,d=>d+" hr",10,3);
  monthAxis(g,x,1245,10.5);
  title("Hours of Daylight and Twilight",225,1026,146.7,12.5);
  caption([["The number of hours during which the Sun is visible (black line). From bottom (most",224.2,1268.3,365],
           ["yellow) to top (most gray), the color bands indicate: full daylight, twilight (civil, nautical, and",225.5,1287.7,392],
           ["astronomical), and full night.",225,1307.7,123]],11.5);
}

// ================= 8. SUNRISE / SUNSET =================
{
  const g=svg.append("g");
  const x=d3.scaleLinear([0,365],[504.3,843.7]);
  const y=d3.scaleLinear([0,24],[1246,1057.7]);
  const prevMid=i=>solarNoon[i]-12, nextMid=i=>solarNoon[i]+12;
  g.append("path").attr("d",area(x,y,solarDays,prevMid,nextMid)).attr("fill",cNight);
  g.append("path").attr("d",area(x,y,solarDays,i=>sunrise[i]-twAstro[i],i=>sunset[i]+twAstro[i])).attr("fill",cAstro);
  g.append("path").attr("d",area(x,y,solarDays,i=>sunrise[i]-twNautical[i],i=>sunset[i]+twNautical[i])).attr("fill",cNaut);
  g.append("path").attr("d",area(x,y,solarDays,i=>sunrise[i]-twCivil[i],i=>sunset[i]+twCivil[i])).attr("fill",cCivil);
  g.append("path").attr("d",area(x,y,solarDays,sunrise,sunset)).attr("fill",cDay);
  const gg=g.append("g").attr("clip-path",clip("c8",504.3,1057.7,339.4,188.3));
  vGrid(gg,x,1057.7,1246,"rgba(0,0,0,0.07)");
  hGrid(gg,y,[2,4,6,8,10,12,14,16,18,20,22],504.3,843.7,"rgba(0,0,0,0.07)");
  nowLine(gg,x(nowDay),1057.7,1246,"rgba(0,0,0,0.12)");
  [prevMid,sunrise,solarNoon,sunset,nextMid].forEach(f=>{
    g.append("path").attr("d",line(x,y,solarDays,f)).attr("fill","none").attr("stroke","#111").attr("stroke-width",1.6);
  });
  txt(g,"night",541,1072.7,9,"#a8a8a8"); txt(g,"night",812,1076,9,"#a8a8a8");
  txt(g,"night",541,1231.7,9,"#a8a8a8"); txt(g,"night",812,1236,9,"#a8a8a8");
  txt(g,"day",673.7,1136.7,10,"#333");
  const halo=e=>e.attr("stroke","rgba(220,230,255,0.55)").attr("stroke-width",2.2).style("paint-order","stroke");
  txt(g,"7:51 PM",672,1096.7,9.5,blue); txt(g,"Jun 30",672,1107.3,9.5,blue);
  txt(g,"Mar 30",586,1127.3,9.5,blue); txt(g,"DST",586,1138.3,9.5,blue);
  dot(g,x(88),y(5.58),1.4);
  txt(g,"Mar 29",584.3,1184,9.5,blue); txt(g,"5:35 AM",584.3,1194.3,9.5,blue);
  txt(g,"DST",782,1163.3,9.5,blue); txt(g,"Oct 26",782,1173.3,9.5,blue);
  dot(g,x(338),y(16.63),1.4);
  txt(g,"Dec 4",819.3,1097.3,9.5,blue,undefined,halo); txt(g,"4:38 PM",819.3,1107.3,9.5,blue,undefined,halo);
  dot(g,x(297),y(6.87),1.4);
  txt(g,"6:52 AM",781,1203,9.5,blue,undefined,halo); txt(g,"Oct 25",781,1214,9.5,blue,undefined,halo);
  [["Solar",1054],["Midnight",1065],["Sunset",1114],["Solar",1147.7],["Noon",1159],["Sunrise",1193.3],["Solar",1242.3],["Midnight",1252.7]]
    .forEach(([t,b])=>txt(g,t,846,b,9.5,"#333","start"));
  leftAxis(g,y,504.3,clockTicks,h=>h===24||h===0?"12 AM":h===12?"12 PM":h>12?(h-12)+" PM":h+" AM",9,3);
  monthAxis(g,x,1257,9.5);
  title("Sunrise & Sunset with Twilight and Daylight Saving Time",673.8,1039.3,261,11);
  caption([["The solar day over the course of the year 2019. From bottom to top, the black lines are the",674.3,1273.3,364.7],
           ["previous solar midnight, sunrise, solar noon, sunset, and the next solar midnight. The day,",674.3,1286,363],
           ["twilights (civil, nautical, and astronomical), and night are indicated by the color bands from",673.5,1298.7,368],
           ["yellow to gray. The transitions to and from daylight saving time are indicated by the 'DST'",671,1311.7,364],
           ["labels.",673,1321,26]],9.5);
}
</script></body></html>
